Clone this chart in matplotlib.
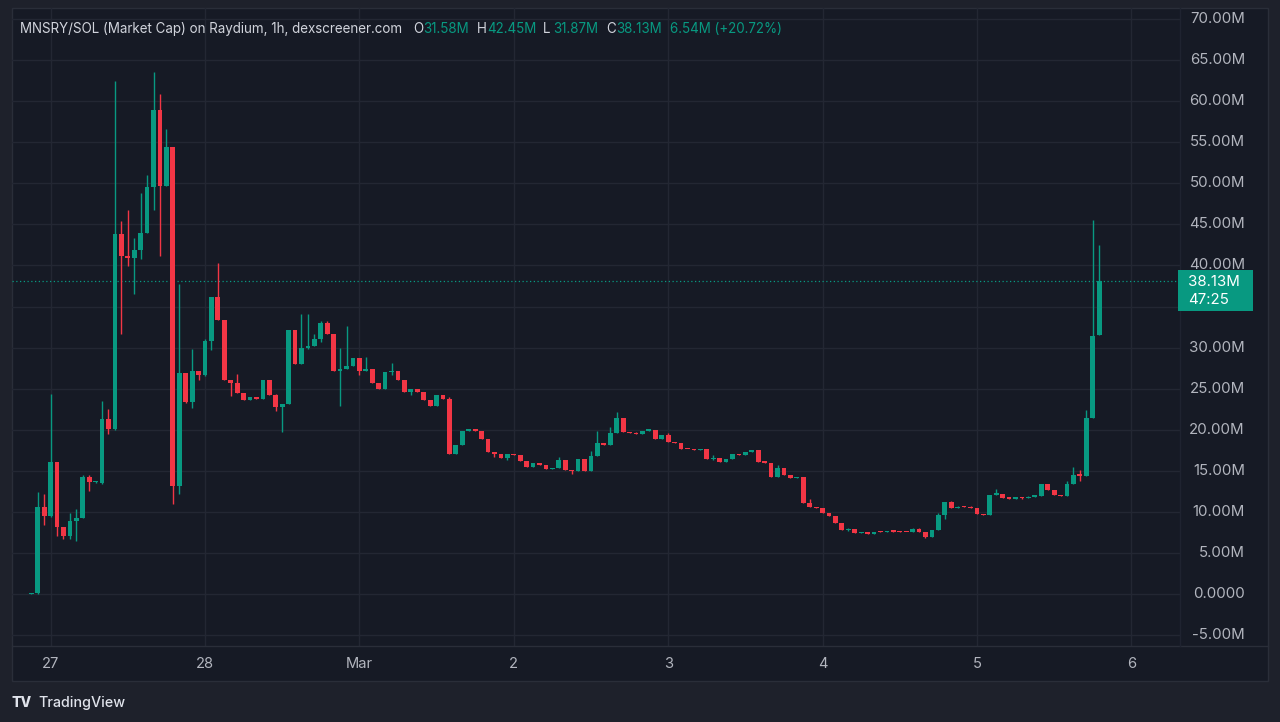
import matplotlib
matplotlib.use("Agg")
import matplotlib.pyplot as plt
from matplotlib.patches import Rectangle
from matplotlib.transforms import blended_transform_factory as btf
import numpy as np

plt.rcParams['font.family'] = ['Inter', 'DejaVu Sans']

# ---- data: hourly candles, hour offset from 27 Feb 00:00 ----
start_hour = -3
opens = [0.0, 0.1, 10.6, 9.5, 16.1, 8.2, 7.1, 8.9, 9.3, 14.2, 13.6, 13.5, 21.3, 20.1, 43.8, 41.2, 40.9, 41.9, 43.9, 49.5,
         58.9, 49.7, 54.4, 13.2, 26.9, 23.4, 27.1, 26.7, 30.8, 36.1, 33.3, 26.0, 25.7, 24.5, 23.6, 24.0, 23.7, 26.0, 24.2, 22.8,
         23.1, 32.1, 28.0, 30.0, 30.2, 31.0, 33.0, 31.6, 27.1, 27.4, 27.8, 28.7, 27.1, 27.4, 25.7, 25.0, 27.0, 27.2, 26.1, 24.6,
         24.9, 24.6, 23.6, 22.9, 24.2, 23.8, 17.1, 18.2, 19.9, 19.95, 19.9, 18.9, 17.3, 17.1, 16.5, 17.0, 16.9, 16.2, 15.5, 15.9,
         15.7, 15.2, 15.3, 16.3, 15.1, 15.0, 16.4, 15.0, 16.8, 18.4, 18.2, 19.6, 21.4, 19.7, 19.6, 19.5, 19.9, 20.0, 18.9, 19.3,
         18.5, 18.4, 17.7, 17.6, 17.5, 17.7, 16.4, 16.6, 16.1, 16.4, 17.0, 16.9, 17.3, 17.5, 16.1, 16.0, 14.3, 15.3, 14.5, 14.1,
         14.2, 11.1, 10.6, 10.5, 9.9, 9.5, 8.7, 7.8, 7.9, 7.4, 7.6, 7.3, 7.6, 7.55, 7.65, 7.6, 7.55, 7.5, 7.9, 7.6,
         6.9, 7.8, 9.6, 11.2, 10.5, 10.65, 10.6, 10.5, 9.7, 9.65, 12.1, 12.2, 11.7, 11.6, 11.8, 11.7, 11.85, 11.95, 13.4, 12.7,
         12.0, 11.9, 13.4, 14.6, 14.4, 21.4, 31.58]
highs = [0.1, 12.4, 12.2, 24.3, 16.1, 8.2, 9.9, 10.4, 14.5, 14.5, 13.8, 23.5, 22.5, 62.4, 45.4, 46.7, 43.4, 48.8, 51.0, 63.5,
         60.9, 56.6, 54.4, 37.8, 26.9, 29.8, 27.1, 31.0, 36.1, 40.3, 33.3, 26.0, 26.8, 24.5, 24.0, 24.0, 26.0, 26.0, 24.4, 23.1,
         32.1, 32.1, 34.1, 34.1, 31.6, 33.2, 33.2, 31.6, 30.0, 32.6, 28.7, 28.7, 28.8, 27.4, 25.7, 27.0, 28.1, 27.2, 26.1, 24.9,
         24.9, 24.6, 23.6, 24.2, 24.2, 24.0, 18.2, 19.9, 20.1, 20.0, 19.9, 18.9, 17.3, 17.1, 17.0, 17.0, 16.9, 16.2, 15.9, 15.9,
         15.7, 15.3, 16.7, 16.3, 15.1, 16.4, 16.4, 17.4, 19.9, 18.4, 20.3, 22.2, 21.4, 19.7, 19.7, 19.9, 20.0, 20.0, 19.3, 19.6,
         18.5, 18.4, 17.7, 17.6, 17.7, 17.7, 16.9, 16.6, 16.4, 17.0, 17.0, 17.3, 17.5, 17.5, 16.2, 16.0, 15.7, 15.3, 14.5, 14.2,
         14.2, 11.6, 10.6, 10.5, 9.9, 9.5, 8.7, 8.0, 7.9, 7.6, 7.6, 7.6, 7.7, 7.7, 7.7, 7.7, 7.6, 8.0, 8.0, 7.6,
         7.8, 9.9, 11.2, 11.3, 10.7, 10.7, 10.7, 10.5, 9.8, 12.1, 12.8, 12.2, 11.7, 11.7, 11.8, 11.9, 12.0, 13.4, 13.4, 12.7,
         12.0, 13.7, 15.5, 15.1, 22.4, 45.5, 42.45]
lows = [0.0, 0.0, 8.4, 9.4, 7.1, 6.7, 6.7, 6.5, 9.2, 12.6, 13.5, 13.4, 19.5, 20.0, 31.7, 39.9, 36.5, 40.8, 43.9, 46.7,
        41.1, 49.7, 10.9, 12.2, 23.2, 22.6, 26.1, 26.5, 29.7, 33.3, 26.0, 24.1, 24.5, 23.6, 23.6, 23.7, 23.7, 24.2, 22.3, 19.7,
        23.1, 28.0, 28.0, 29.8, 30.2, 30.7, 31.6, 27.1, 22.9, 27.4, 27.8, 26.7, 27.1, 25.7, 25.0, 25.0, 26.7, 26.1, 24.6, 24.2,
        24.6, 23.6, 22.9, 22.9, 23.8, 17.0, 17.1, 18.2, 19.8, 19.9, 18.9, 17.3, 16.7, 16.5, 16.3, 16.9, 16.2, 15.5, 15.5, 15.7,
        15.2, 15.2, 15.3, 15.1, 14.6, 15.0, 15.0, 15.0, 16.8, 18.2, 18.2, 19.6, 19.7, 19.6, 19.5, 19.5, 19.9, 18.9, 18.9, 18.5,
        18.4, 17.7, 17.6, 17.5, 17.5, 16.4, 16.3, 16.1, 16.1, 16.4, 16.9, 16.9, 17.3, 16.1, 16.0, 14.3, 14.3, 14.5, 14.1, 14.1,
        11.1, 10.6, 10.5, 9.9, 9.5, 8.7, 7.8, 7.7, 7.4, 7.4, 7.3, 7.3, 7.5, 7.55, 7.6, 7.55, 7.5, 7.5, 7.6, 6.8,
        6.9, 7.8, 9.1, 10.5, 10.5, 10.6, 10.5, 9.7, 9.6, 9.65, 12.0, 11.7, 11.55, 11.6, 11.6, 11.7, 11.85, 11.95, 12.7, 12.0,
        11.9, 11.9, 13.4, 13.8, 14.4, 21.4, 31.58]
closes = [0.1, 10.6, 9.5, 16.1, 8.2, 7.1, 8.9, 9.3, 14.2, 13.6, 13.7, 21.3, 20.1, 43.8, 41.2, 40.9, 41.9, 43.9, 49.5, 58.9,
          49.7, 54.4, 13.2, 26.9, 23.4, 27.1, 26.7, 30.8, 36.1, 33.3, 26.0, 25.7, 24.5, 23.6, 24.0, 23.7, 26.0, 24.2, 22.8, 23.1,
          32.1, 28.0, 30.0, 30.2, 31.0, 33.0, 31.6, 27.1, 27.4, 27.8, 28.7, 27.1, 27.4, 25.7, 25.0, 27.0, 27.2, 26.1, 24.6, 24.9,
          24.6, 23.6, 22.9, 24.2, 23.8, 17.1, 18.2, 19.9, 19.95, 19.9, 18.9, 17.3, 17.1, 16.5, 17.0, 16.9, 16.2, 15.5, 15.9, 15.7,
          15.2, 15.3, 16.3, 15.1, 15.0, 16.4, 15.0, 16.8, 18.4, 18.2, 19.6, 21.4, 19.7, 19.6, 19.5, 19.9, 20.0, 18.9, 19.3, 18.5,
          18.4, 17.7, 17.6, 17.5, 17.7, 16.4, 16.6, 16.1, 16.4, 17.0, 16.9, 17.3, 17.5, 16.1, 16.0, 14.3, 15.3, 14.5, 14.1, 14.2,
          11.1, 10.6, 10.5, 9.9, 9.5, 8.7, 7.8, 7.9, 7.4, 7.6, 7.3, 7.6, 7.55, 7.65, 7.6, 7.55, 7.5, 7.9, 7.6, 6.9,
          7.8, 9.6, 11.2, 10.5, 10.65, 10.6, 10.5, 9.7, 9.65, 12.1, 12.2, 11.7, 11.6, 11.65, 11.7, 11.85, 11.95, 13.4, 12.7, 12.0,
          11.9, 13.4, 14.5, 14.4, 21.4, 31.4, 38.13]

price_ticks = [-5, 0, 5, 10, 15, 20, 25, 30, 35, 40, 45, 50, 55, 60, 65, 70]
price_tick_labels = ["-5.00M", "0.0000", "5.00M", "10.00M", "15.00M", "20.00M", "25.00M", "30.00M",
                     "35.00M", "40.00M", "45.00M", "50.00M", "55.00M", "60.00M", "65.00M", "70.00M"]
day_ticks = [0, 24, 48, 72, 96, 120, 144, 168]
day_labels = ["27", "28", "Mar", "2", "3", "4", "5", "6"]

last_price = 38.13
last_label = "38.13M"
countdown = "47:25"
title = "MNSRY/SOL (Market Cap) on Raydium, 1h, dexscreener.com"
ohlc_header = [("O", "31.58M"), ("H", "42.45M"), ("L", "31.87M"), ("C", "38.13M")]
change_text = "6.54M (+20.72%)"

# ---- style ----
W, H = 1280, 722
OUTER = '#1e212b'
PANEL = '#161a25'
GRID = '#232733'
BORDER = '#2a2e39'
UP = '#089981'
DOWN = '#f23645'
TXT = '#b2b5be'
TXT2 = '#d1d4dc'

def fx(px): return px / W
def fy(py): return 1 - py / H

fig = plt.figure(figsize=(12.8, 7.22), dpi=100)
fig.patch.set_facecolor(OUTER)

# panel background (drawn below the axes)
fig.patches.append(Rectangle((fx(12), fy(681)), fx(1268) - fx(12), fy(8) - fy(681),
                             transform=fig.transFigure, facecolor=PANEL, edgecolor=BORDER, lw=1, zorder=-5))

ax = fig.add_axes([fx(12), fy(646), fx(1180) - fx(12), fy(8) - fy(646)])
ax.set_zorder(1)
ax.patch.set_alpha(0)
for s in ax.spines.values():
    s.set_visible(False)
ax.set_xticks([]); ax.set_yticks([])

# scales: price 0 at y=594px, 575px per 70M; hours: 27 at x=50.6px, 6.433 px per hour
ppm = 575 / 70.0
ax.set_ylim((594 - 646) / ppm, (594 - 8) / ppm)
pph = 6.433
ax.set_xlim((12 - 50.6) / pph, (1180 - 50.6) / pph)

for p in price_ticks:
    ax.axhline(p, color=GRID, lw=1, zorder=1)
for d in day_ticks:
    ax.axvline(d, color=GRID, lw=1, zorder=1)

o = np.array(opens); h = np.array(highs); l = np.array(lows); c = np.array(closes)
x = start_hour + np.arange(len(o))
cols = np.where(c >= o, UP, DOWN)
ax.vlines(x, l, h, colors=cols, lw=1.0, zorder=3)
bottom = np.minimum(o, c)
height = np.maximum(np.abs(c - o), 0.15)
ax.bar(x, height, bottom=bottom, width=0.74, color=cols, edgecolor='none', zorder=4)

ax.axhline(last_price, color=UP, lw=0.9, ls=(0, (1, 2)), zorder=2)

# separators
fig.add_artist(plt.Line2D([fx(12), fx(1268)], [fy(646), fy(646)], transform=fig.transFigure, color=BORDER, lw=1))
fig.add_artist(plt.Line2D([fx(1180), fx(1180)], [fy(8), fy(646)], transform=fig.transFigure, color='#1f2330', lw=1))

# price labels
ty = btf(fig.transFigure, ax.transData)
for p, lab in zip(price_ticks, price_tick_labels):
    fig.text(fx(1245), p, lab, transform=ty, ha='right', va='center', color=TXT, fontsize=10.8, zorder=2)

# last price box (covers the labels behind it)
fig.patches.append(Rectangle((fx(1178), fy(311.5)), fx(1252.5) - fx(1178), fy(270.5) - fy(311.5),
                             transform=fig.transFigure, facecolor=UP, edgecolor='none', zorder=5))
fig.text(fx(1188), fy(281.5), last_label, ha='left', va='center', color='white', fontsize=10.8, zorder=6)
fig.text(fx(1188), fy(300.5), countdown, ha='left', va='center', color='white', fontsize=10.8, zorder=6)

# day labels
tx = btf(ax.transData, fig.transFigure)
for d, lab in zip(day_ticks, day_labels):
    fig.text(d, fy(664), lab, transform=tx, ha='center', va='center', color=TXT, fontsize=10.6)

# header
fig.text(fx(20), fy(29), title, ha='left', va='center', color=TXT2, fontsize=9.65, zorder=6)
hx = [413, 477, 543, 606]
for (k, v), px in zip(ohlc_header, hx):
    fig.text(fx(px), fy(29), k, ha='left', va='center', color=TXT2, fontsize=9.65, zorder=6)
    fig.text(fx(px + 10), fy(29), v, ha='left', va='center', color=UP, fontsize=9.65, zorder=6)
fig.text(fx(670), fy(29), change_text, ha='left', va='center', color=UP, fontsize=9.65, zorder=6)

# TradingView logo
fig.text(fx(12), fy(703), "TV", ha='left', va='center', color='#e0e3eb', fontsize=10, fontweight='heavy')
fig.text(fx(38), fy(703), "TradingView", ha='left', va='center', color='#e0e3eb', fontsize=10.3, fontweight='medium')

fig.savefig("out.png", dpi=100, facecolor=OUTER)
